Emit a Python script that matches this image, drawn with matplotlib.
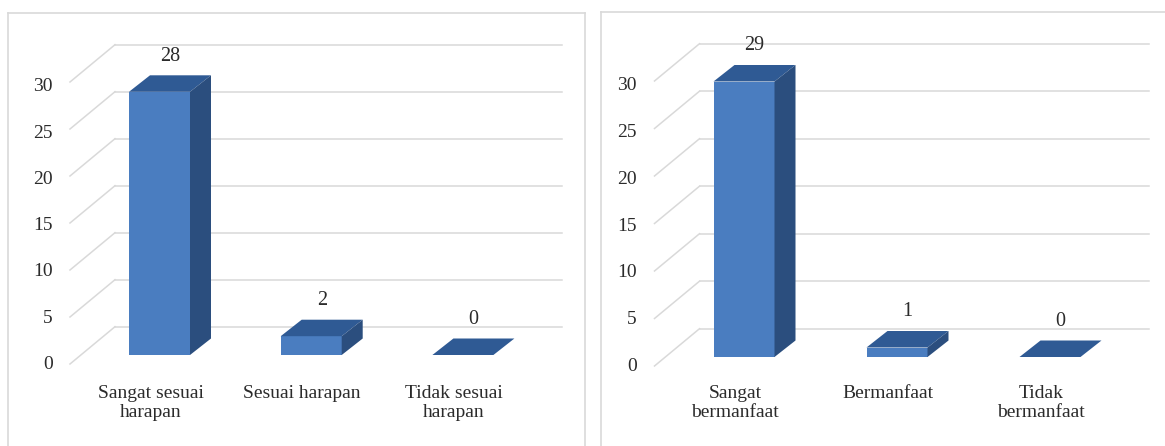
import matplotlib
matplotlib.use("Agg")
import matplotlib.pyplot as plt
from matplotlib.patches import Polygon

# data
left_categories = ["Sangat sesuai\nharapan", "Sesuai harapan", "Tidak sesuai\nharapan"]
left_values = [28, 2, 0]
right_categories = ["Sangat\nbermanfaat", "Bermanfaat", "Tidak\nbermanfaat"]
right_values = [29, 1, 0]
y_ticks = [0, 5, 10, 15, 20, 25, 30]

W, H = 1165, 446
FRONT = "#4a7dc0"
TOP = "#2f5a94"
SIDE = "#2b4e7e"
GRID = "#d9d9d9"
TXT = "#2b2b2b"

plt.rcParams['font.family'] = ['Liberation Serif', 'DejaVu Serif']

fig = plt.figure(figsize=(W / 100, H / 100), dpi=100)
fig.patch.set_facecolor("white")


def panel(box, x0, sx, y0, sy, cats, vals, hide_right=False):
    # box = (left, right, top, bottom) in pixels, x0/y0 = pixel of first bar front base
    L, R, T, B = box
    ax = fig.add_axes([L / W, 1 - B / H, (R - L) / W, (B - T) / H])
    ax.set_xlim((L - x0) / sx, (R - x0) / sx)
    ax.set_ylim((y0 - B) / sy, (y0 - T) / sy)
    ax.set_xticks([])
    ax.set_yticks([])
    for s in ax.spines.values():
        s.set_color(GRID)
        s.set_linewidth(1.2)
    ax.spines["bottom"].set_visible(False)
    if hide_right:
        ax.spines["right"].set_visible(False)

    # pixel offsets -> data units
    bw = 61 / sx
    bdx, bdy = 21 / sx, 16.5 / sy
    fdy = -7.5 / sy                      # floor front edge vs bar front
    wdx, wdy = -44.5 / sx, 28.3 / sy     # back wall vs bar front
    gx_end = 2.65
    sdx = -89.5 / sx                     # front edge of the side wall

    # gridlines: back wall + side wall diagonals
    for t in y_ticks:
        ax.plot([wdx, gx_end], [t + wdy, t + wdy], color=GRID, lw=1.1, zorder=1)
        ax.plot([sdx, wdx], [t + fdy - 1.5 / sy, t + wdy], color=GRID, lw=1.1, zorder=1)
        ax.text(-107 / sx, t * 0.985 + fdy - 2 / sy, str(t), ha="right", va="center",
                fontsize=14, color=TXT)

    xs = list(range(len(vals)))
    ax.bar(xs, vals, width=bw, bottom=0, color=FRONT, zorder=3, linewidth=0)
    for x, v in zip(xs, vals):
        l, r = x - bw / 2, x + bw / 2
        ax.add_patch(Polygon([(l, v), (r, v), (r + bdx, v + bdy), (l + bdx, v + bdy)],
                             closed=True, facecolor=TOP, edgecolor="none", zorder=4))
        if v > 0:
            ax.add_patch(Polygon([(r, 0), (r + bdx, bdy), (r + bdx, v + bdy), (r, v)],
                                 closed=True, facecolor=SIDE, edgecolor="none", zorder=4))
        ax.text(x + bdx / 2, v + bdy + 19 / sy, str(v), ha="center", va="center",
                fontsize=14.5, color=TXT)

    for x, c in zip(xs, cats):
        ax.text(x - 9 / sx, (y0 - 385) / sy, c, ha="center", va="top",
                fontsize=14, color=TXT, linespacing=1.12)
    return ax


panel((8, 585, 12.7, 447), 159.5, 151.7, 355, 9.4, left_categories, left_values)
panel((600.7, 1180, 12.3, 447), 744, 153, 357, 9.5, right_categories, right_values,
      hide_right=True)

fig.savefig("out.png", dpi=100, facecolor="white")
